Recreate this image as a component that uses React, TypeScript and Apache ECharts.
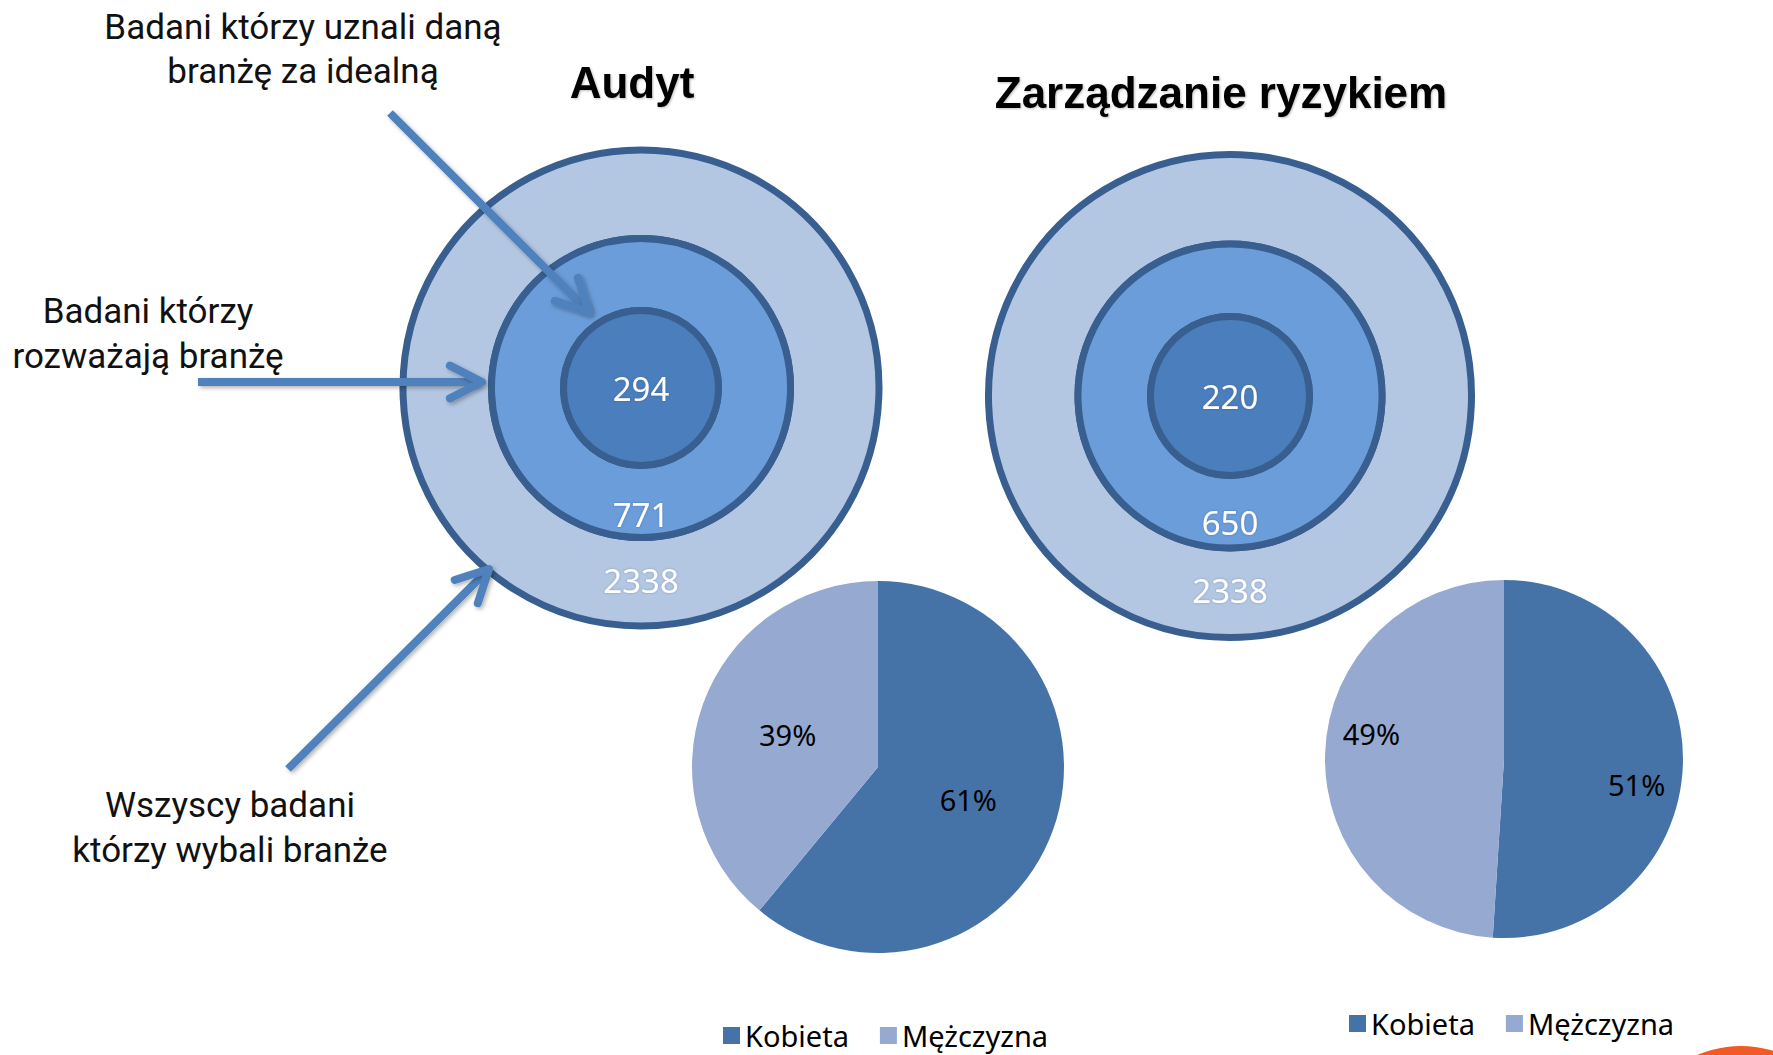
import React, { useEffect, useRef } from "react";
import * as echarts from "echarts";

// ---------- data ----------
const targetTitles = ["Audyt", "Zarządzanie ryzykiem"];
const ringNames = [
  "Wszyscy badani którzy wybali branże",
  "Badani którzy rozważają branżę",
  "Badani którzy uznali daną branżę za idealną",
];
const auditCounts = [2338, 771, 294];
const riskCounts = [2338, 650, 220];
const genderNames = ["Kobieta", "Mężczyzna"];
const auditGender = [61, 39];
const riskGender = [51, 49];
const annotationTop = ["Badani którzy uznali daną", "branżę za idealną"];
const annotationMid = ["Badani którzy", "rozważają branżę"];
const annotationBottom = ["Wszyscy badani", "którzy wybali branże"];

// ---------- styles ----------
const LABEL_FONT = '"Noto Sans", "Open Sans", sans-serif';
const NOTE_FONT = 'Roboto, "Noto Sans", sans-serif';
const RING_COLORS = ["#b3c7e3", "#6b9dda", "#4b7ebc"];
const RING_BORDER = "#385f8f";
const GENDER_COLORS = ["#4673a7", "#95a9d1"];
const ARROW_COLOR = "#4f81bd";

function targetSeries(
  counts: number[],
  center: number[],
  radii: number[], // [inner, middle, outer]
  dys: number[]
) {
  const ranges = [
    [radii[1], radii[2]],
    [radii[0], radii[1]],
    [0, radii[0]],
  ];
  return counts.map((v, i) => ({
    type: "pie",
    center,
    radius: ranges[i],
    startAngle: 90,
    silent: true,
    avoidLabelOverlap: false,
    emphasis: { disabled: true },
    itemStyle: { color: RING_COLORS[i], borderColor: RING_BORDER, borderWidth: 7 },
    label: {
      show: true,
      position: i === 2 ? "center" : "inside",
      rotate: 0,
      formatter: "{c}",
      color: "#ffffff",
      fontSize: 33,
      fontFamily: LABEL_FONT,
      textShadowColor: "rgba(40,60,100,0.35)",
      textShadowBlur: 2,
    },
    labelLine: { show: false },
    labelLayout: { dy: dys[i] },
    data: [{ name: ringNames[i], value: v }],
  }));
}

function genderData(values: number[]) {
  return values.map((v, i) => ({
    name: genderNames[i],
    value: v,
    itemStyle: { color: GENDER_COLORS[i] },
  }));
}

const genderLabel = {
  show: true,
  position: "inside",
  rotate: 0,
  formatter: "{c}%",
  color: "#000000",
  fontSize: 29,
  fontFamily: LABEL_FONT,
};

function arrow(x1: number, y1: number, x2: number, y2: number) {
  const ang = Math.atan2(y2 - y1, x2 - x1);
  const L = 36;
  const h = (27 * Math.PI) / 180;
  const w = 4; // half line width
  const p1 = [x2 - L * Math.cos(ang - h), y2 - L * Math.sin(ang - h)];
  const p2 = [x2 - L * Math.cos(ang + h), y2 - L * Math.sin(ang + h)];
  const ex = x2 - 3 * Math.cos(ang);
  const ey = y2 - 3 * Math.sin(ang);
  const nx = -Math.sin(ang) * w;
  const ny = Math.cos(ang) * w;
  const shadow = {
    shadowBlur: 4,
    shadowOffsetX: 2,
    shadowOffsetY: 2,
    shadowColor: "rgba(0,0,0,0.3)",
  };
  return [
    {
      type: "polygon",
      silent: true,
      z: 100,
      shape: {
        points: [
          [x1 + nx, y1 + ny],
          [ex + nx, ey + ny],
          [ex - nx, ey - ny],
          [x1 - nx, y1 - ny],
        ],
      },
      style: { fill: ARROW_COLOR, ...shadow },
    },
    {
      type: "polyline",
      silent: true,
      z: 100,
      shape: { points: [p1, [x2, y2], p2] },
      style: {
        stroke: ARROW_COLOR,
        fill: null,
        lineWidth: 8,
        lineCap: "round",
        lineJoin: "round",
        ...shadow,
      },
    },
  ];
}

function noteLines(lines: string[], x: number, y: number, gap: number) {
  return lines.map((t, i) => ({
    type: "text",
    silent: true,
    z: 100,
    style: {
      text: t,
      x,
      y: y + i * gap,
      fill: "#111111",
      font: `35px ${NOTE_FONT}`,
      align: "center",
      verticalAlign: "middle",
    },
  }));
}

function titleText(t: string, x: number, y: number) {
  return {
    type: "text",
    silent: true,
    z: 100,
    style: {
      text: t,
      x,
      y,
      fill: "#000000",
      font: 'bold 44px "Liberation Sans", Arial, sans-serif',
      align: "center",
      verticalAlign: "middle",
      textShadowColor: "rgba(0,0,0,0.25)",
      textShadowBlur: 2,
      textShadowOffsetX: 1,
      textShadowOffsetY: 1,
    },
  };
}

const legendBase = {
  orient: "horizontal",
  icon: "rect",
  itemWidth: 17,
  itemHeight: 17,
  itemGap: 31,
  padding: 0,
  selectedMode: false,
  data: genderNames,
  textStyle: { fontSize: 29, fontFamily: LABEL_FONT, color: "#000000", lineHeight: 29 },
};

export default function App() {
  const ref = useRef<HTMLDivElement>(null);

  useEffect(() => {
    document.body.style.margin = "0";
    if (!ref.current) return;
    const chart = echarts.init(ref.current, undefined, { renderer: "svg" });

    const option: any = {
      animation: false,
      backgroundColor: "#ffffff",
      legend: [
        { ...legendBase, left: 723, top: 1021 },
        { ...legendBase, left: 1349, top: 1009 },
      ],
      series: [
        ...targetSeries(auditCounts, [641, 388], [77.5, 149.5, 238], [-4, 10, 0]),
        ...targetSeries(riskCounts, [1230, 396], [79.5, 152, 241.5], [-5, 8, 0]),
        {
          type: "pie",
          name: "Audyt płeć",
          center: [878, 767],
          radius: [0, 186],
          startAngle: 90,
          clockwise: true,
          silent: true,
          avoidLabelOverlap: false,
          emphasis: { disabled: true },
          label: genderLabel,
          labelLine: { show: false },
          data: genderData(auditGender),
        },
        {
          type: "pie",
          name: "Zarządzanie ryzykiem płeć",
          center: [1504, 759],
          radius: [0, 179],
          startAngle: 90,
          clockwise: true,
          silent: true,
          avoidLabelOverlap: false,
          emphasis: { disabled: true },
          label: { show: false },
          labelLine: { show: false },
          data: genderData(riskGender),
        },
        {
          // transparent copy, only used to place the labels further out
          type: "pie",
          name: "Zarządzanie ryzykiem płeć etykiety",
          center: [1504, 759],
          radius: [0, 264],
          startAngle: 81,
          clockwise: true,
          silent: true,
          avoidLabelOverlap: false,
          emphasis: { disabled: true },
          itemStyle: { color: "rgba(0,0,0,0)", borderWidth: 0 },
          label: genderLabel,
          labelLine: { show: false },
          data: riskGender.map((v, i) => ({
            name: genderNames[i],
            value: v,
            itemStyle: { color: "rgba(0,0,0,0)" },
          })),
        },
      ],
      graphic: [
        titleText(targetTitles[0], 632, 82),
        titleText(targetTitles[1], 1221, 92),
        ...noteLines(annotationTop, 303, 27, 44),
        ...noteLines(annotationMid, 148, 311, 45),
        ...noteLines(annotationBottom, 230, 805, 45),
        ...arrow(390, 113, 589, 312),
        ...arrow(198, 382, 482, 382),
        ...arrow(288, 769, 489, 569),
        {
          type: "circle",
          silent: true,
          z: 100,
          shape: { cx: 1741, cy: 1156, r: 110 },
          style: { fill: "#f15a24" },
        },
      ],
    };

    chart.setOption(option);
    return () => chart.dispose();
  }, []);

  return (
    <div
      ref={ref}
      style={{ position: "fixed", left: 0, top: 0, width: 1773, height: 1055 }}
    />
  );
}
